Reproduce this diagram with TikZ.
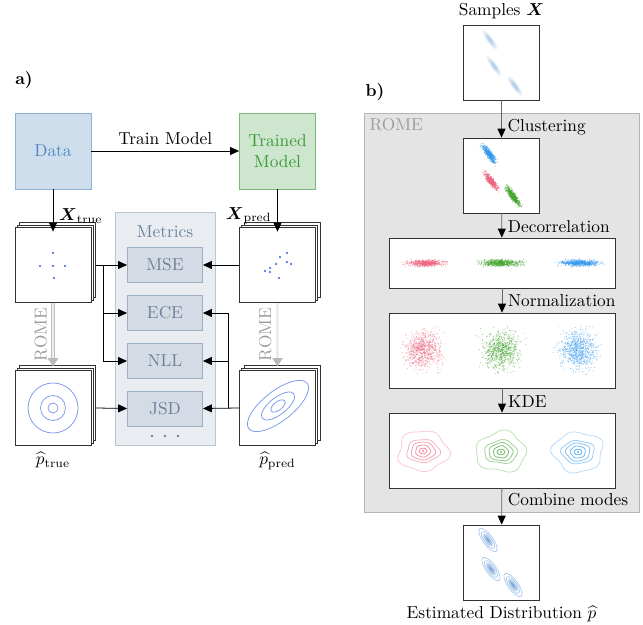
\documentclass[tikz,border=0pt]{standalone}
\usepackage{amsmath}
\usetikzlibrary{arrows.meta,shadows,calc}

\definecolor{datafill}{HTML}{CEDEED}
\definecolor{dataedge}{HTML}{8DB1D8}
\definecolor{datatext}{HTML}{4F87C2}
\definecolor{modelfill}{HTML}{CDE6CD}
\definecolor{modeledge}{HTML}{78B978}
\definecolor{modeltext}{HTML}{3A993A}
\definecolor{metpanel}{HTML}{E9EDF1}
\definecolor{metpaneledge}{HTML}{B8C5D3}
\definecolor{metfill}{HTML}{D4DBE4}
\definecolor{metedge}{HTML}{9EAFC3}
\definecolor{mettext}{HTML}{6D809A}
\definecolor{romefill}{HTML}{E4E4E4}
\definecolor{romeedge}{HTML}{B4B4B4}
\definecolor{rometext}{HTML}{9C9C9C}
\definecolor{dotblue}{HTML}{2F62E6}
\definecolor{ringblue}{HTML}{7E9CEB}
\definecolor{cpink}{HTML}{EE6680}
\definecolor{cgreen}{HTML}{44A52E}
\definecolor{cblue}{HTML}{3399EE}
\definecolor{sblue}{HTML}{3D7EC4}
\definecolor{lblue}{HTML}{A8C8EC}

% Gaussian-like point cloud: centre x, centre y, sd along, sd across, angle, count, style
\newcommand\pcloud[7]{%
  \foreach \k in {1,...,#6}{%
    \pgfmathsetmacro\pu{(rand+rand+rand)*#3}%
    \pgfmathsetmacro\pv{(rand+rand+rand)*#4}%
    \fill[#7] ({#1+\pu*cos(#5)-\pv*sin(#5)},{#2+\pu*sin(#5)+\pv*cos(#5)}) circle[radius=0.32pt];
  }}

% Soft elongated blob: centre x, centre y, half length, half width, style
\newcommand\softblob[5]{%
  \foreach \s in {1,0.8,0.62,0.46,0.3}{%
    \fill[#5, rotate around={-54:(#1,#2)}] (#1,#2) ellipse[x radius=\s*#3, y radius=\s*#4];
  }}

% Wavy density contours: centre x, centre y, colour, phase
\newcommand\kdeblob[4]{%
  \foreach \ca/\cb/\cw/\co in {25/20/0.08/0.35, 16.5/11.5/0.06/0.5, 12/9/0.05/0.6, 7.5/6/0.04/0.7, 3.8/2.8/0.02/0.8}{%
    \draw[#3, opacity=\co, line width=0.45pt] plot[smooth cycle, domain=0:345, samples=24, variable=\ang]
      ({#1+\ca*(1+\cw*sin(5*\ang+#4)+0.6*\cw*cos(3*\ang-#4))*cos(\ang)},
       {#2+\cb*(1+\cw*sin(5*\ang+#4)+0.6*\cw*cos(3*\ang-#4))*sin(\ang)});
  }
  \fill[#3, opacity=0.8] (#1,#2) circle[radius=1.1];
}

% One mode of the estimated density
\newcommand\estmode[2]{%
  \softblob{#1}{#2}{8}{2.4}{sblue, opacity=0.2}
  \foreach \ra/\rb in {14/5, 10/3.6, 6.5/2.4}{%
    \draw[lblue, line width=0.4pt, rotate around={-54:(#1,#2)}] (#1,#2) ellipse[x radius=\ra, y radius=\rb];
  }}

\tikzset{
  frame/.style={draw=black!80, fill=white, line width=0.45pt, inner sep=0pt,
    minimum width=43.9pt, minimum height=43.3pt},
  stack/.style={frame, double copy shadow={shadow xshift=1.35pt, shadow yshift=1.35pt}},
  block/.style={line width=0.5pt, inner sep=0pt, minimum width=43.9pt, minimum height=43.9pt, align=center},
  metric/.style={draw=metedge, fill=metfill, text=mettext, line width=0.5pt, inner sep=0pt,
    minimum width=43.35pt, minimum height=20.2pt},
  arr/.style={line width=0.45pt, -{Triangle[length=5.2pt, width=4.6pt]}},
  flowarr/.style={draw=black!60, line width=0.5pt, -{Triangle[length=5.2pt, width=4.6pt, black]}},
  romearr/.style={draw=gray!50, double=gray!15, double distance=1.3pt, line width=0.4pt,
    -{Triangle[length=4.6pt, width=6pt, gray!55]}},
  steplabel/.style={anchor=west, inner sep=3.3pt}
}

\begin{document}
\begin{tikzpicture}[x=0.578pt, y=-0.578pt]
\useasboundingbox (0,0) rectangle (643,625);
\fill[white] (0,0) rectangle (643,625);

% ---------------- panel a) ----------------
\node[font=\bfseries] (labela) at (24,80) {a)};

\node[block, draw=dataedge, fill=datafill, text=datatext] (data) at (53,151) {Data};
\node[block, draw=modeledge, fill=modelfill, text=modeltext] (trained) at (277.5,151) {Trained\\Model};

\node[draw=metpaneledge, fill=metpanel, line width=0.5pt, minimum width=57.8pt, minimum height=134.7pt, inner sep=0pt]
  (metrics) at (165,328.5) {};
\node[text=mettext] (metricstitle) at (165,232) {Metrics};
\node[metric] (mse) at (165,265) {MSE};
\node[metric] (ece) at (165,313) {ECE};
\node[metric] (nll) at (165,361) {NLL};
\node[metric] (jsd) at (165,408.5) {JSD};
\foreach \dx in {-13,0,13}{\fill[mettext] (165+\dx,436) circle[radius=1.3];}

% stacked sample / density frames
\node[stack] (xt) at (53,265) {};
\node[stack] (xp) at (277.5,265) {};
\node[stack] (pt) at (53,408) {};
\node[stack] (pp) at (277.5,408) {};

% true samples
\foreach \px/\py in {53/253, 40/266, 53/266, 65/266, 54/278}{\fill[dotblue] (\px,\py) circle[radius=1.2];}
% predicted samples
\foreach \px/\py in {280/257, 287/253, 276/264, 287/262, 291/264, 265/271, 270/268, 270/272, 279/278}{\fill[dotblue] (\px,\py) circle[radius=1.2];}
% true density
\foreach \r in {25,12.5,5}{\draw[ringblue, line width=0.45pt] (53,408) circle[radius=\r];}
% predicted density
\foreach \ra/\rb in {37/15, 20/8.5, 8.5/4.2}{%
  \draw[ringblue, line width=0.45pt, rotate around={38:(278,406)}] (278,406) ellipse[x radius=\ra, y radius=\rb];}

\node (ptlabel) [below=0pt] at (pt.south) {$\widehat{p}_{\mathrm{true}}$};
\node (pplabel) [below=0pt] at (pp.south) {$\widehat{p}_{\mathrm{pred}}$};

% connectors of panel a)
\draw[arr] (data) -- node[above] {Train Model} (trained);
\draw[arr, shorten >=-2.6pt] (data.south) -- node[pos=0.7, right] {$\boldsymbol{X}_{\mathrm{true}}$} (xt.north);
\draw[arr, shorten >=-2.6pt] (trained.south) -- node[pos=0.7, left] {$\boldsymbol{X}_{\mathrm{pred}}$} (xp.north);
\draw[romearr] (xt.south) -- node[midway, rotate=90, anchor=south, text=rometext] {ROME} ([yshift=2.3pt]pt.north);
\draw[romearr] (xp.south) -- node[midway, rotate=90, anchor=south, text=rometext] {ROME} ([yshift=2.3pt]pp.north);

\coordinate (lj) at (103,265);
\coordinate (rj) at (228,408);
\draw[arr] ([xshift=2.6pt]xt.east) -- (mse.west);
\draw[arr] (lj) |- (ece.west);
\draw[arr] (lj) |- (nll.west);
\draw[arr] ([xshift=2.6pt]pt.east) -- (jsd.west);
\draw[arr] (xp.west) -- (mse.east);
\draw[arr] (pp.west) -- (jsd.east);
\draw[arr] (rj) |- (ece.east);
\draw[arr] (rj) |- (nll.east);

% ---------------- panel b) ----------------
\node[font=\bfseries] (labelb) at (375,92) {b)};

\node[draw=romeedge, fill=romefill, line width=0.5pt, minimum width=159pt, minimum height=230.6pt, inner sep=0pt]
  (rome) at (501.5,312.5) {};
\node[anchor=north west, text=rometext] (rometitle) at (rome.north west) {ROME};

\node[frame] (samples) at (501.5,62.5) {};
\node[above=0pt] (sampleslabel) at (samples.north) {Samples $\boldsymbol{X}$};
\node[frame] (clust) at (501.5,175.5) {};
\node[frame, minimum width=130.6pt, minimum height=28.9pt] (decor) at (502,263) {};
\node[frame, minimum width=130.6pt] (norm) at (502,350.5) {};
\node[frame, minimum width=130.6pt] (kde) at (502,450.5) {};
\node[frame] (est) at (501.5,562.5) {};
\node[below=0pt] (estlabel) at (est.south) {Estimated Distribution $\widehat{p}$};

% raw samples
\softblob{490}{40}{12}{3}{sblue, opacity=0.09}
\softblob{494}{66}{12}{3}{sblue, opacity=0.09}
\softblob{515}{86}{12}{3}{sblue, opacity=0.09}

\pgfmathsetseed{11}
% clustered samples
\pcloud{489}{154}{5}{1.4}{54}{420}{cblue, opacity=0.7}
\pcloud{491}{181}{5}{1.4}{54}{420}{cpink, opacity=0.7}
\pcloud{513}{196}{5.3}{1.4}{54}{420}{cgreen, opacity=0.7}
% decorrelated modes
\pcloud{425}{263}{9}{1.6}{0}{550}{cpink, opacity=0.6}
\pcloud{501}{263}{10}{1.6}{0}{550}{cgreen, opacity=0.6}
\pcloud{580}{263}{9.5}{1.5}{0}{550}{cblue, opacity=0.6}
% normalised modes
\pcloud{423}{350}{9}{9}{0}{800}{cpink, opacity=0.5}
\pcloud{501}{350}{9}{9}{0}{800}{cgreen, opacity=0.5}
\pcloud{578}{350}{9}{9}{0}{800}{cblue, opacity=0.5}
% density estimates
\kdeblob{423}{451}{cpink}{40}
\kdeblob{501}{452}{cgreen}{130}
\kdeblob{578}{452}{cblue}{250}
% combined density
\estmode{488}{540}
\estmode{491}{569}
\estmode{513}{585}

% connectors of panel b)
\draw[flowarr] (samples) -- node[steplabel, pos=0.71] {Clustering} (clust);
\draw[flowarr] (clust) -- node[steplabel, pos=0.56] {Decorrelation} (decor);
\draw[flowarr] (decor) -- node[steplabel, pos=0.52] {Normalization} (norm);
\draw[flowarr] (norm) -- node[steplabel, pos=0.56] {KDE} (kde);
\draw[flowarr] (kde) -- node[steplabel, pos=0.32] {Combine modes} (est);
\end{tikzpicture}
\end{document}
